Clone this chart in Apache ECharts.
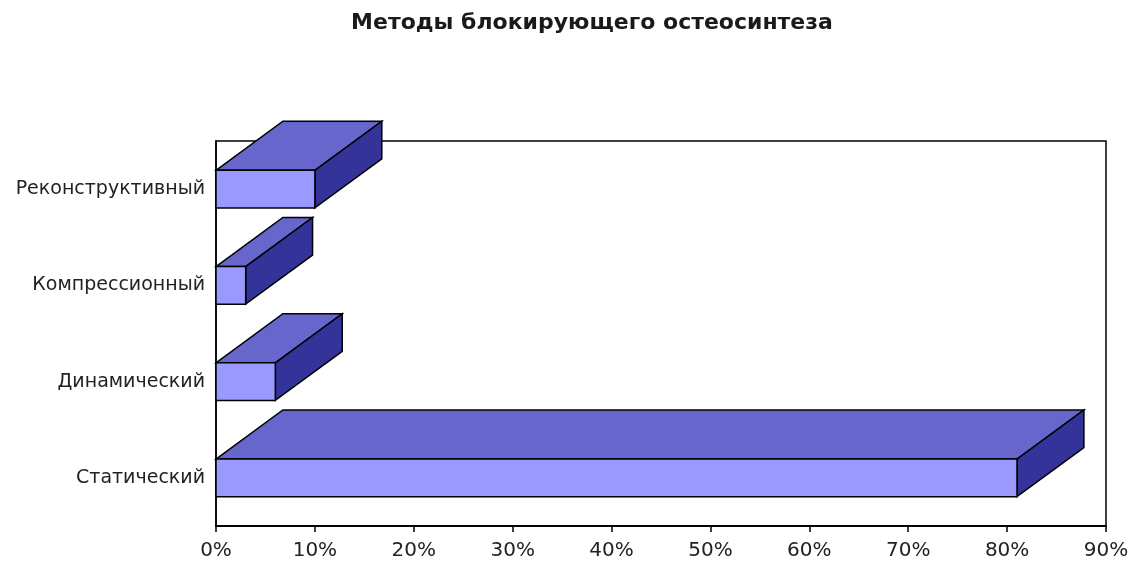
<!DOCTYPE html>
<html>
<head>
<meta charset="utf-8">
<style>
  html, body { margin: 0; padding: 0; background: #fff; }
  #chart { width: 1133px; height: 564px; }
</style>
<script src="https://cdn.jsdelivr.net/npm/echarts@6/dist/echarts.min.js"></script>
</head>
<body>
<div id="chart"></div>
<script>
// Categories listed bottom to top (category y axis runs upward)
const categories = ['Статический', 'Динамический', 'Компрессионный', 'Реконструктивный'];
// Share of each method, %
const shares = [81, 6, 3, 10];
const titleText = 'Методы блокирующего остеосинтеза';

const FRONT = '#9999FF';
const TOP = '#6666CC';
const SIDE = '#333399';
const FONT = 'DejaVu Sans';

// 3D box: front face + top face + right side face
function renderBox(params, api) {
  const cat = api.value(0);
  const val = api.value(1);
  const p0 = api.coord([0, cat]);
  const p1 = api.coord([val, cat]);
  const band = api.size([0, 1])[1];
  const h = band * 0.39;
  const dx = band * 0.695;
  const dy = band * 0.51;
  const x0 = p0[0], x1 = p1[0];
  const yT = p0[1] - h / 2, yB = p0[1] + h / 2;
  const stroke = { stroke: '#000', lineWidth: 1.5, lineJoin: 'miter' };
  return {
    type: 'group',
    children: [
      { type: 'polygon', shape: { points: [[x0, yT], [x0 + dx, yT - dy], [x1 + dx, yT - dy], [x1, yT]] },
        style: Object.assign({ fill: TOP }, stroke) },
      { type: 'polygon', shape: { points: [[x1, yT], [x1 + dx, yT - dy], [x1 + dx, yB - dy], [x1, yB]] },
        style: Object.assign({ fill: SIDE }, stroke) },
      { type: 'rect', shape: { x: x0, y: yT, width: x1 - x0, height: yB - yT },
        style: Object.assign({ fill: FRONT }, stroke) }
    ]
  };
}

const chart = echarts.init(document.getElementById('chart'), null, { renderer: 'canvas' });
chart.setOption({
  backgroundColor: '#fff',
  animation: false,
  title: {
    text: titleText,
    left: 587,
    textAlign: 'center',
    top: 7,
    textStyle: { fontFamily: FONT, fontSize: 22, fontWeight: 'bold', color: '#1a1a1a' }
  },
  grid: {
    left: 216, right: 27, top: 141, bottom: 38,
    show: true, borderColor: '#000', borderWidth: 1.5, backgroundColor: '#fff'
  },
  xAxis: {
    type: 'value', min: 0, max: 90, interval: 10,
    axisLine: { show: true, lineStyle: { color: '#000', width: 2 } },
    axisTick: { show: true, length: 6, lineStyle: { color: '#000', width: 1.5 } },
    splitLine: { show: false },
    axisLabel: { formatter: '{value}%', color: '#222', fontFamily: FONT, fontSize: 20, margin: 15 }
  },
  yAxis: {
    type: 'category', data: categories,
    axisLine: { show: true, lineStyle: { color: '#000', width: 1.5 } },
    axisTick: { show: false },
    splitLine: { show: false },
    axisLabel: { color: '#222', fontFamily: FONT, fontSize: 19, margin: 11 }
  },
  series: [{
    type: 'custom',
    clip: false,
    renderItem: renderBox,
    encode: { x: 1, y: 0 },
    data: categories.map((c, i) => [i, shares[i]])
  }]
});
</script>
</body>
</html>
